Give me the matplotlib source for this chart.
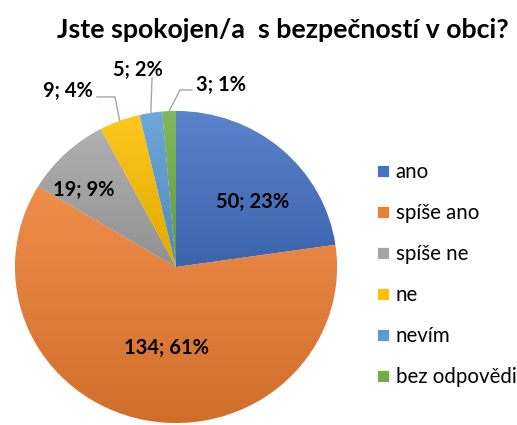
import numpy as np
import matplotlib
matplotlib.use("Agg")
import matplotlib.pyplot as plt
from matplotlib.colors import to_rgb

categories = ["ano", "spíše ano", "spíše ne", "ne", "nevím", "bez odpovědi"]
values = [50, 134, 19, 9, 5, 3]
colors = ["#4472C4", "#ED7D31", "#A5A5A5", "#FFC000", "#5B9BD5", "#70AD47"]
title = "Jste spokojen/a  s bezpečností v obci?"

# label positions in pie units (x, y) and whether a leader line is drawn
label_pos = [(0.478, 0.417), (-0.062, -0.519), (-0.571, 0.494),
             (-0.674, 1.128), (-0.239, 1.26), (0.280, 1.167)]
leaders = [None, None, None,
           [(-0.491, 1.090), (-0.379, 1.090)],
           [(-0.149, 1.212)],
           [(0.099, 1.135), (0.025, 1.135)]]

plt.rcParams["font.family"] = ["Lato", "DejaVu Sans"]

fig = plt.figure(figsize=(5.17, 4.25), dpi=100)
ax = fig.add_axes([15 / 517, 2 / 425, 322 / 517, 312 / 425])

wedges, _ = ax.pie(values, colors=colors, startangle=90, counterclock=False,
                   wedgeprops=dict(edgecolor="white", linewidth=0.6))
ax.set_aspect("auto")

# Excel-like light-to-dark gradient on each slice
for w, c in zip(wedges, colors):
    verts = w.get_path().vertices
    y0, y1 = verts[:, 1].min(), verts[:, 1].max()
    x0, x1 = verts[:, 0].min(), verts[:, 0].max()
    base = np.array(to_rgb(c))
    light = base + (1 - base) * 0.12
    dark = base * 0.88
    t = np.linspace(0, 1, 64)[:, None]
    grad = light[None, :] * (1 - t) + dark[None, :] * t
    img = np.repeat(grad[:, None, :], 2, axis=1)
    im = ax.imshow(img, extent=[x0, x1, y0, y1], origin="upper",
                   aspect="auto", zorder=1.5, interpolation="bilinear")
    im.set_clip_path(w)
ax.set_xlim(-1, 1)
ax.set_ylim(-1, 1)

total = sum(values)
for i, (w, v) in enumerate(zip(wedges, values)):
    txt = f"{v}; {round(v / total * 100)}%"
    x, y = label_pos[i]
    ax.text(x, y, txt, ha="center", va="center", fontsize=14.5,
            fontweight="bold", color="#000000", clip_on=False, zorder=5)
    if leaders[i] is not None:
        mid = np.deg2rad((w.theta1 + w.theta2) / 2)
        pts = leaders[i] + [(np.cos(mid), np.sin(mid))]
        xs, ys = zip(*pts)
        ax.plot(xs, ys, color="#A6A6A6", linewidth=1.0, clip_on=False, zorder=4)

ax.axis("off")

fig.text(283 / 517, 1 - 30 / 425, title, ha="center", va="center",
         fontsize=19.3, fontweight="bold", color="#000000")

fig.legend(wedges, categories, loc="upper left",
           bbox_to_anchor=(367 / 517, 1 - 152 / 425), frameon=False,
           fontsize=14.8, handlelength=0.55, handleheight=0.55,
           handletextpad=0.35, labelspacing=1.02, borderpad=0)

fig.savefig("out.png", dpi=100)
